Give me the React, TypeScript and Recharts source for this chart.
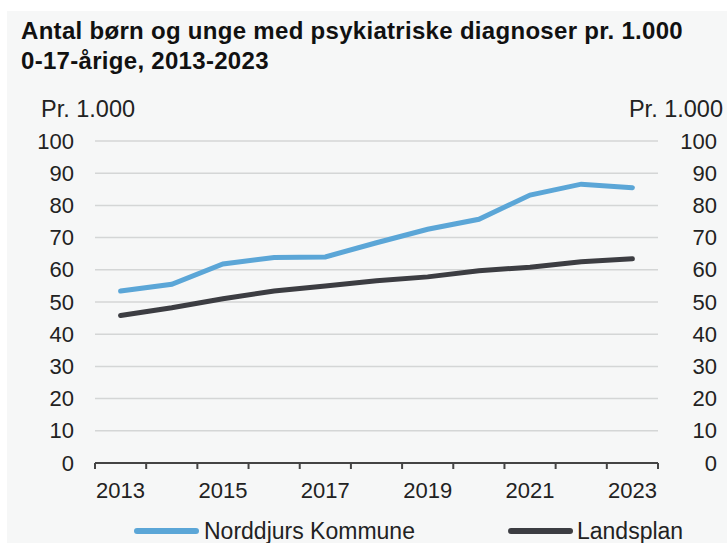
import React from 'react';
import { LineChart, Line, XAxis, YAxis, CartesianGrid } from 'recharts';

const years = ['2013', '2014', '2015', '2016', '2017', '2018', '2019', '2020', '2021', '2022', '2023'];
const norddjurs = [53.4, 55.5, 61.8, 63.8, 64.0, 68.4, 72.6, 75.7, 83.2, 86.6, 85.5];
const landsplan = [45.8, 48.2, 51.0, 53.4, 55.0, 56.6, 57.8, 59.7, 60.8, 62.5, 63.4];
const yTicks = [0, 10, 20, 30, 40, 50, 60, 70, 80, 90, 100];

const BLUE = '#5ba6d7';
const DARK = '#3c3d42';
const TEXT = '#222';
const FONT = '"Liberation Sans", Arial, sans-serif';

const data = years.map((year, i) => ({ year, norddjurs: norddjurs[i], landsplan: landsplan[i] }));

const W = 727;
const H = 543;
const PLOT_LEFT = 95;
const PLOT_RIGHT = 658;
const HALF_BAND = (PLOT_RIGHT - PLOT_LEFT) / years.length / 2;

function XTick(props: any) {
  const { x, y, payload, index } = props;
  const label = Number(payload.value) % 2 === 1 ? payload.value : '';
  const last = index === years.length - 1;
  return (
    <g>
      <line x1={x - HALF_BAND} x2={x - HALF_BAND} y1={y} y2={y + 6} stroke="#444" strokeWidth={2} />
      {last && <line x1={x + HALF_BAND} x2={x + HALF_BAND} y1={y} y2={y + 6} stroke="#444" strokeWidth={2} />}
      {label && (
        <text x={x} y={y + 27} textAnchor="middle" dominantBaseline="central" fontSize={22} fill={TEXT} fontFamily={FONT}>
          {label}
        </text>
      )}
    </g>
  );
}

function LeftTick(props: any) {
  const { x, y, payload } = props;
  return (
    <text x={x - 21} y={y} textAnchor="end" dominantBaseline="central" fontSize={22} fill={TEXT} fontFamily={FONT}>
      {payload.value}
    </text>
  );
}

function RightTick(props: any) {
  const { x, y, payload } = props;
  return (
    <text x={x + 59} y={y} textAnchor="end" dominantBaseline="central" fontSize={22} fill={TEXT} fontFamily={FONT}>
      {payload.value}
    </text>
  );
}

export default function App() {
  return (
    <div style={{ position: 'relative', width: W, height: H, background: '#fff', fontFamily: FONT, overflow: 'hidden' }}>
      <style>{'body{margin:0}'}</style>
      <div style={{ position: 'absolute', left: 7, top: 11, right: 0, bottom: 0, background: '#f6f7f7' }} />
      <div style={{ position: 'absolute', left: 21, top: 16, fontSize: 24, lineHeight: '30px', letterSpacing: 0.3, fontWeight: 700, color: '#111', whiteSpace: 'nowrap' }}>
        Antal børn og unge med psykiatriske diagnoser pr. 1.000
        <br />
        0-17-årige, 2013-2023
      </div>
      <div style={{ position: 'absolute', left: 41, top: 98, fontSize: 23.5, lineHeight: '23px', color: TEXT }}>Pr. 1.000</div>
      <div style={{ position: 'absolute', right: 4, top: 98, fontSize: 23.5, lineHeight: '23px', color: TEXT }}>Pr. 1.000</div>
      <div style={{ position: 'absolute', left: 0, top: 0 }}>
        <LineChart width={W} height={H} data={data} margin={{ top: 141, right: 0, bottom: 40, left: 0 }}>
          <CartesianGrid vertical={false} stroke="#d4d6d6" strokeWidth={1.5} yAxisId="left" />
          <XAxis
            dataKey="year"
            height={40}
            interval={0}
            padding={{ left: HALF_BAND, right: HALF_BAND }}
            tickLine={false}
            tickSize={0}
            tickMargin={0}
            axisLine={{ stroke: '#444', strokeWidth: 2 }}
            tick={<XTick />}
          />
          <YAxis
            yAxisId="left"
            width={PLOT_LEFT}
            domain={[0, 100]}
            ticks={yTicks}
            interval={0}
            axisLine={false}
            tickLine={false}
            tickSize={0}
            tickMargin={0}
            tick={<LeftTick />}
          />
          <YAxis
            yAxisId="right"
            orientation="right"
            width={W - PLOT_RIGHT}
            domain={[0, 100]}
            ticks={yTicks}
            interval={0}
            axisLine={false}
            tickLine={false}
            tickSize={0}
            tickMargin={0}
            tick={<RightTick />}
          />
          <Line yAxisId="left" type="linear" dataKey="landsplan" name="Landsplan" stroke={DARK} strokeWidth={5} dot={false} strokeLinecap="round" isAnimationActive={false} />
          <Line yAxisId="right" type="linear" dataKey="norddjurs" name="Norddjurs Kommune" stroke={BLUE} strokeWidth={5} dot={false} strokeLinecap="round" isAnimationActive={false} />
        </LineChart>
      </div>
      <div style={{ position: 'absolute', left: 134, top: 528, width: 65, height: 6, borderRadius: 3, background: BLUE }} />
      <div style={{ position: 'absolute', left: 204, top: 520, fontSize: 23, lineHeight: '23px', color: TEXT, whiteSpace: 'nowrap' }}>Norddjurs Kommune</div>
      <div style={{ position: 'absolute', left: 508, top: 528, width: 65, height: 6, borderRadius: 3, background: DARK }} />
      <div style={{ position: 'absolute', left: 577, top: 520, fontSize: 23, lineHeight: '23px', color: TEXT, whiteSpace: 'nowrap' }}>Landsplan</div>
    </div>
  );
}
